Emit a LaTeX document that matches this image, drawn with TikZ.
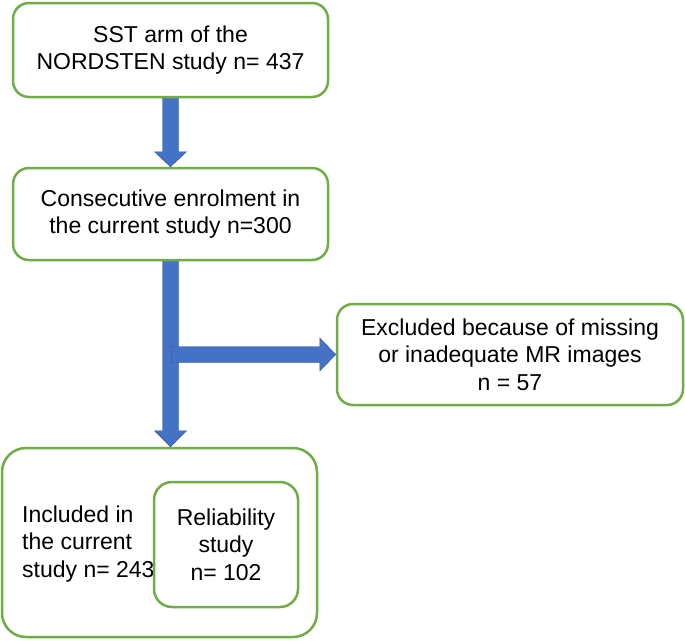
\documentclass[tikz,border=0pt]{standalone}
\usepackage{fontspec}
\setmainfont{Liberation Sans}
\usetikzlibrary{calc}
\definecolor{boxgreen}{HTML}{70AD47}
\definecolor{arrowblue}{HTML}{4472C4}
\definecolor{arrowedge}{HTML}{2F528F}
\begin{document}
\begin{tikzpicture}[x=1pt,y=-1pt,
  box/.style={draw=boxgreen, line width=2.5pt, fill=white, inner sep=0pt, align=center, font=\fontsize{23}{27.6}\selectfont},
  label/.style={inner sep=0pt, font=\fontsize{23}{27.6}\selectfont},
  blockarrow/.style={fill=arrowblue, draw=arrowedge, line width=0.4pt}]
\useasboundingbox (0,0) rectangle (685,640);
\node[box, rounded corners=16pt, minimum width=315pt, minimum height=94pt] (top) at (170.5,50) {SST arm of the\\NORDSTEN study n= 437};
\node[box, rounded corners=16pt, minimum width=315pt, minimum height=92pt] (mid) at (170.5,214) {Consecutive enrolment in\\the current study n=300};
\node[box, rounded corners=16pt, minimum width=346pt, minimum height=101pt] (excl) at (510,354.5) {Excluded because of missing\\or inadequate MR images\\n = 57};
\node[box, rounded corners=24pt, minimum width=315pt, minimum height=189pt] (bot) at (159.5,542.5) {};
\node[label, anchor=west, align=left] (inc) at (22,544) {Included in\\the current\\study n= 243};
\node[box, rounded corners=18pt, minimum width=144pt, minimum height=125pt] (rel) at (226,544.5) {Reliability\\study\\n= 102};
% arrow top -> mid
\path[blockarrow] let \p1=(top.south), \p2=(mid.north) in
  (\x1-8pt,\y1) -- (\x1+8pt,\y1) -- (\x1+8pt,\y2+15pt) -- (\x1+16pt,\y2+15pt) -- (\x1,\y2)
  -- (\x1-16pt,\y2+15pt) -- (\x1-8pt,\y2+15pt) -- cycle;
% arrow mid -> bot
\coordinate (bottip) at (mid.south |- bot.north);
\path[blockarrow] let \p1=(mid.south), \p2=(bottip) in
  (\x1-8pt,\y1) -- (\x1+8pt,\y1) -- (\x1+8pt,\y2+16pt) -- (\x1+16pt,\y2+16pt) -- (\x1,\y2)
  -- (\x1-16pt,\y2+16pt) -- (\x1-8pt,\y2+16pt) -- cycle;
% arrow to excluded
\coordinate (branch) at (mid.south |- excl.west);
\path[blockarrow] let \p1=(branch), \p2=(excl.west) in
  (\x1+1pt,\y1+8pt) -- (\x2-16pt,\y1+8pt) -- (\x2-16pt,\y1+16.5pt) -- (\x2,\y1)
  -- (\x2-16pt,\y1-16.5pt) -- (\x2-16pt,\y1-8pt) -- (\x1+1pt,\y1-8pt) -- cycle;
\end{tikzpicture}
\end{document}
